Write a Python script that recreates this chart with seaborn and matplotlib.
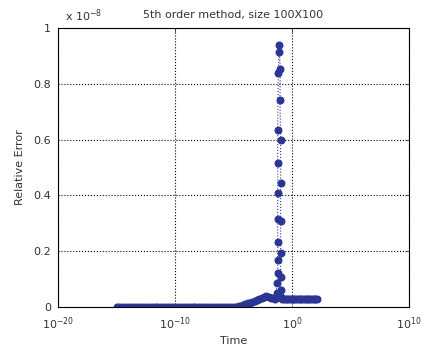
import numpy as np
import pandas as pd
import matplotlib
matplotlib.use("Agg")
import matplotlib.pyplot as plt
import seaborn as sns

# ---- data (time as log10 exponent, relative error in units of 1e-8) ----
flat_logt = [-15.0, -14.75, -14.5, -14.25, -14.0, -13.75, -13.5, -13.25, -13.0, -12.75,
             -12.5, -12.25, -12.0, -11.75, -11.5, -11.25, -11.0, -10.75, -10.5, -10.25,
             -10.0, -9.75, -9.5, -9.25, -9.0, -8.75, -8.5, -8.25, -8.0, -7.75,
             -7.5, -7.25, -7.0, -6.75, -6.5, -6.25, -6.0, -5.75, -5.5, -5.25,
             -5.0, -4.75]
flat_err = [0.0, 0.0, 0.0, 0.0, 0.0, 0.0, 0.0, 0.0, 0.0, 0.0,
            0.0, 0.0, 0.0, 0.0, 0.0, 0.0, 0.0, 0.0, 0.0, 0.0,
            0.0, 0.0, 0.0, 0.0, 0.0, 0.0, 0.0, 0.0, 0.0, 0.0,
            0.0, 0.0, 0.0, 0.0, 0.0, 0.0, 0.0, 0.0, 0.0, 0.0,
            0.001, 0.001]
rise_logt = [-4.55, -4.4, -4.2, -4.0, -3.8, -3.6, -3.4, -3.2, -3.0, -2.8,
             -2.6, -2.4, -2.2, -2.0, -1.8, -1.6, -1.45]
rise_err = [0.002, 0.004, 0.007, 0.010, 0.013, 0.016, 0.019, 0.022, 0.026, 0.029,
            0.033, 0.037, 0.041, 0.037, 0.033, 0.031, 0.030]
spike_logt = [-1.31, -1.31, -1.22, -1.22, -1.22, -1.22, -1.22, -1.22, -1.22, -1.17,
              -1.11, -1.11, -1.0, -1.03, -0.97, -0.97, -0.97, -0.97, -0.97, -0.97, -0.95]
spike_err = [0.050, 0.086, 0.122, 0.168, 0.233, 0.315, 0.409, 0.516, 0.634, 0.839,
             0.915, 0.939, 0.853, 0.742, 0.599, 0.444, 0.308, 0.194, 0.108, 0.061, 0.035]
tail_logt = [-0.85, -0.7, -0.55, -0.4, -0.25, -0.1, 0.05, 0.2, 0.35, 0.5,
             0.65, 0.8, 0.95, 1.1, 1.25, 1.4, 1.55, 1.7, 1.85, 2.0, 2.15]
tail_err = [0.027, 0.027, 0.027, 0.027, 0.027, 0.027, 0.027, 0.027, 0.027, 0.027,
            0.027, 0.027, 0.027, 0.027, 0.027, 0.027, 0.027, 0.027, 0.027, 0.027, 0.027]

xticks = [1e-20, 1e-10, 1e0, 1e10]
xticklabels = [r'$10^{-20}$', r'$10^{-10}$', r'$10^{0}$', r'$10^{10}$']
yticks = [0, 0.2, 0.4, 0.6, 0.8, 1.0]
yticklabels = ['0', '0.2', '0.4', '0.6', '0.8', '1']

logt = flat_logt + rise_logt + spike_logt + tail_logt
err = flat_err + rise_err + spike_err + tail_err
df = pd.DataFrame({'Time': np.power(10.0, logt), 'Err': err, 'order': np.arange(len(err))})

sns.set_style('white')
plt.rcParams['font.family'] = ['DejaVu Sans']
plt.rcParams['mathtext.default'] = 'regular'

fig = plt.figure(figsize=(4.3, 3.55), dpi=100)
ax = fig.add_axes([58/430, 48/355, 351/430, 279/355])

color = '#2b3593'
sns.lineplot(data=df, x='Time', y='Err', sort=False, estimator=None, ax=ax,
             color=color, linestyle=':', linewidth=0.8, marker='o', markersize=5,
             markeredgecolor=color, markerfacecolor=color)

ax.set_xscale('log')
ax.set_xlim(1e-20, 1e10)
ax.set_ylim(0, 1)
ax.set_xticks(xticks)
ax.set_xticklabels(xticklabels)
ax.minorticks_off()
ax.set_yticks(yticks)
ax.set_yticklabels(yticklabels)
ax.tick_params(direction='in', length=3, width=0.6, labelsize=8, colors='#333333',
               top=True, right=True, pad=5)
ax.tick_params(axis='x', pad=6)
ax.tick_params(axis='y', labelcolor='#333333')
for s in ax.spines.values():
    s.set_color('black')
    s.set_linewidth(0.8)
ax.grid(True, which='major', color='black', linestyle=':', linewidth=0.8)

ax.set_xlabel('Time', fontsize=8, color='#333333', labelpad=3)
ax.set_ylabel('Relative Error', fontsize=8, color='#333333', labelpad=6)
ax.set_title('5th order method, size 100X100', fontsize=8, color='#333333', pad=7)
fig.text(65/430, 1 - 16/355, r'x $10^{-8}$', fontsize=8, color='#333333', va='center')

fig.savefig('out.png', dpi=100)
